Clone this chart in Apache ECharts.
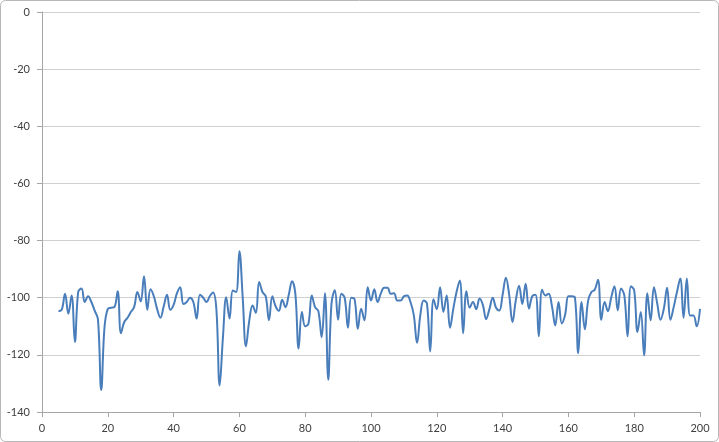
<!DOCTYPE html>
<html>
<head>
<meta charset="utf-8">
<script src="https://cdn.jsdelivr.net/npm/echarts@6/dist/echarts.min.js"></script>
<style>
  html, body { margin: 0; padding: 0; background: #fff; }
  #chart { width: 719px; height: 442px; }
</style>
</head>
<body>
<div id="chart"></div>
<script>
// first x value of the series, one point per unit after that
const xStart = 5
// signal values, x = 5 .. 200
const values = [
  -104.7, -104.2, -98.6, -105.6, -99.2, -115.5, -98, -96.8, -101.5, -99.5,
  -101.5, -104.5, -107.5, -132.3, -110.3, -103.9, -103.5, -103.3, -97.7, -112.4,
  -108.5, -107, -105, -103.3, -98, -101.3, -92.5, -104.2, -97, -99.5,
  -104, -107, -103, -99, -104.2, -102.5, -98.5, -96.3, -102.2, -101.5,
  -100, -101.5, -107.3, -99, -100, -101.5, -99.5, -98.2, -104, -130.7,
  -113.8, -99.8, -107.3, -97.5, -98, -83.7, -99.8, -117, -108, -102.7,
  -105.3, -94.5, -98, -99.5, -107.9, -99.5, -103, -104.6, -100.7, -103.3,
  -99, -94.2, -98.6, -117.8, -105, -110, -109, -99.2, -103.3, -104.7,
  -113.8, -98.4, -128.7, -102, -97.4, -107.7, -98.6, -100, -110.5, -100,
  -100.5, -110.9, -103.9, -107.9, -96.3, -101, -97, -101.5, -98.5, -96.5,
  -96.5, -98.6, -98.4, -101, -101, -99.5, -99.2, -101.5, -106, -115.8,
  -106, -101, -102, -118.8, -100.5, -104, -96.3, -105, -99.2, -110.5,
  -104, -98, -94, -112.4, -97.7, -103.5, -101.5, -104, -100.3, -102.5,
  -107.5, -104, -100, -103.5, -104.5, -99, -93, -99, -108.5, -101,
  -95.8, -102.2, -95.1, -103.8, -99.5, -99, -113.5, -97.2, -99.2, -98.6,
  -103, -109.7, -101.5, -109, -106, -99.5, -99.5, -100, -119.4, -101.5,
  -111, -101, -98, -97.2, -93.7, -107.7, -101.5, -104.7, -100, -96,
  -104.4, -96.8, -99.2, -113.5, -96, -97.4, -112, -105, -120.2, -98.4,
  -107.9, -96.3, -102, -107.7, -103.9, -96.5, -107.7, -103.3, -98, -93.3,
  -107, -93.3, -106.2, -106.2, -110, -103.9
]
// axis ranges
const xMin = 0
const xMax = 200
const xStep = 20
const yMin = -140
const yMax = 0
const yStep = 20

const points = values.map((v, i) => [xStart + i, v])

const myChart = echarts.init(document.getElementById('chart'))
const labelStyle = {
  color: '#404040',
  fontFamily: 'Lato',
  fontSize: 11
}
const option = {
  animation: false,
  backgroundColor: '#fff',
  grid: {
    left: 42,
    right: 19,
    top: 12,
    bottom: 30
  },
  graphic: [
    {
      type: 'rect',
      shape: { x: 0.5, y: 0.5, width: 718, height: 441, r: 5 },
      style: { fill: 'none', stroke: '#b7b7b7', lineWidth: 1 },
      silent: true
    }
  ],
  xAxis: {
    type: 'value',
    min: xMin,
    max: xMax,
    interval: xStep,
    axisLine: { show: true, onZero: false, lineStyle: { color: '#a6a6a6' } },
    axisTick: { show: true, inside: false, length: 5, lineStyle: { color: '#a6a6a6' } },
    axisLabel: Object.assign({ margin: 11 }, labelStyle),
    splitLine: { show: false }
  },
  yAxis: {
    type: 'value',
    min: yMin,
    max: yMax,
    interval: yStep,
    axisLine: { show: true, lineStyle: { color: '#a6a6a6' } },
    axisTick: { show: true, inside: false, length: 5, lineStyle: { color: '#a6a6a6' } },
    axisLabel: Object.assign({ margin: 12 }, labelStyle),
    splitLine: { show: true, lineStyle: { color: '#d0d0d0' } }
  },
  series: [
    {
      type: 'line',
      data: points,
      smooth: 0.4,
      showSymbol: false,
      lineStyle: { color: '#4a7ebb', width: 2 }
    }
  ]
}
myChart.setOption(option)
</script>
</body>
</html>
